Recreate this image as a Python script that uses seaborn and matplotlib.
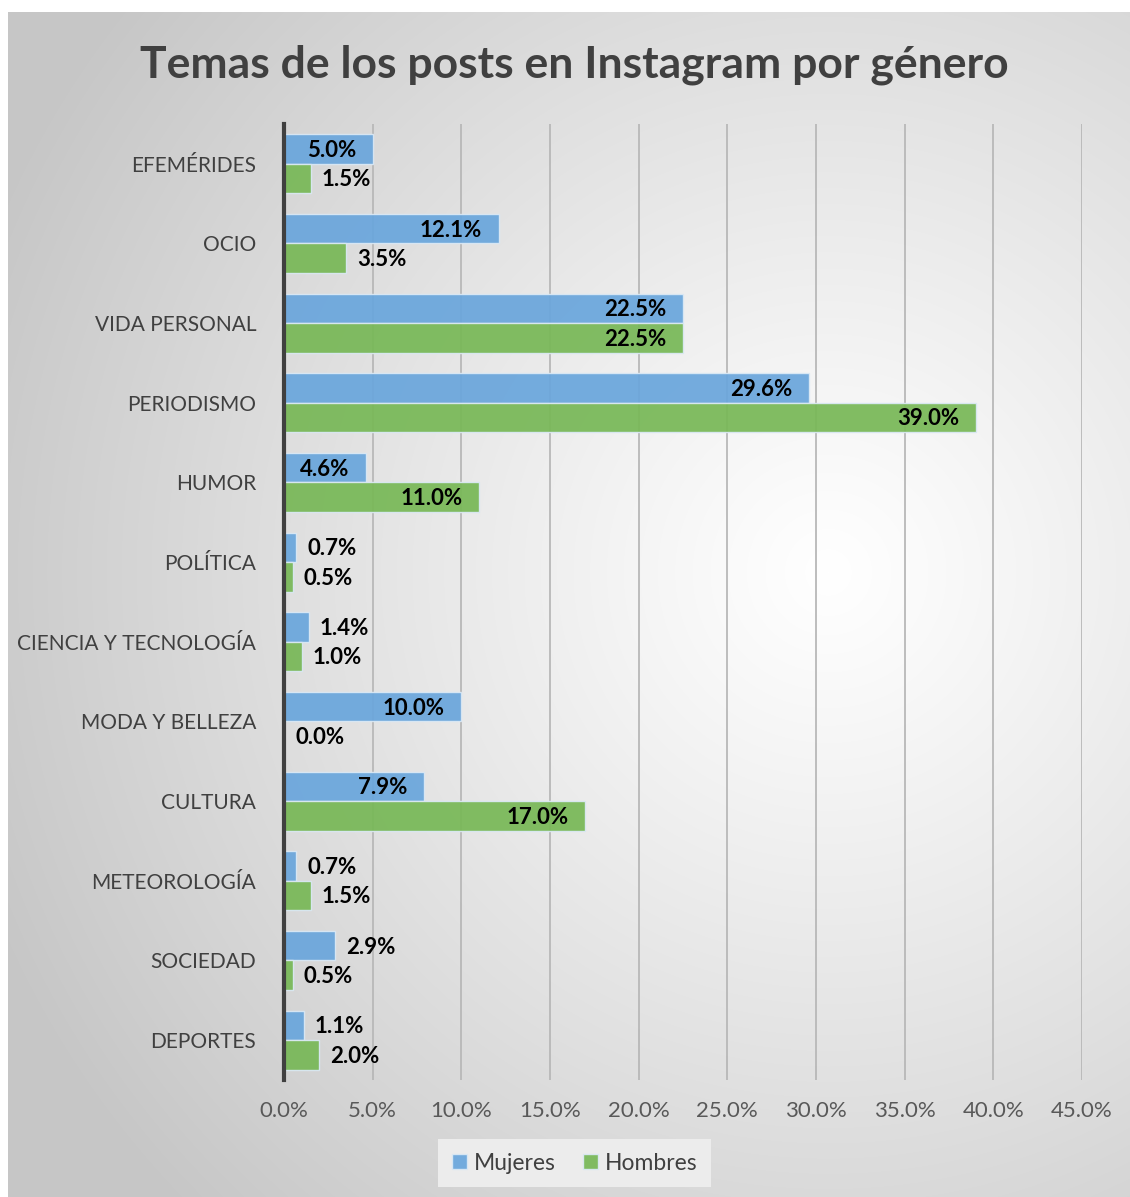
import numpy as np
import pandas as pd
import matplotlib
matplotlib.use("Agg")
import matplotlib.pyplot as plt
import seaborn as sns

categories = ["EFEMÉRIDES", "OCIO", "VIDA PERSONAL", "PERIODISMO", "HUMOR", "POLÍTICA",
              "CIENCIA Y TECNOLOGÍA", "MODA Y BELLEZA", "CULTURA", "METEOROLOGÍA",
              "SOCIEDAD", "DEPORTES"]
mujeres = [5.0, 12.1, 22.5, 29.6, 4.6, 0.7, 1.4, 10.0, 7.9, 0.7, 2.9, 1.1]
hombres = [1.5, 3.5, 22.5, 39.0, 11.0, 0.5, 1.0, 0.0, 17.0, 1.5, 0.5, 2.0]
series = ["Mujeres", "Hombres"]
xticks = [0, 5, 10, 15, 20, 25, 30, 35, 40, 45]
title = "Temas de los posts en Instagram por género"

df = pd.DataFrame({
    "Tema": categories * 2,
    "Género": [series[0]] * len(categories) + [series[1]] * len(categories),
    "Valor": mujeres + hombres,
})

sns.set_theme(style="white")
plt.rcParams["font.family"] = ["Lato", "DejaVu Sans"]

W, H = 1130, 1197
fig = plt.figure(figsize=(W / 100, H / 100), dpi=100)
fig.patch.set_facecolor("white")

# radial gradient background for the chart area
bg = fig.add_axes([8 / W, 0, 1 - 8 / W, 1 - 12 / H], zorder=-10)
yy, xx = np.mgrid[0:H - 12, 0:W - 8]
cx, cy = 820, 560
r = np.sqrt((xx - cx) ** 2 + (yy - cy) ** 2) / 900
r = np.clip(r, 0, 1)
val = 1.0 - (1.0 - 0.78) * r ** 1.1
bg.imshow(np.dstack([val, val, val]), aspect="auto", interpolation="bilinear")
bg.set_axis_off()

ax = fig.add_axes([284 / W, 1 - 1080 / H, (1082 - 284) / W, (1080 - 124) / H])
ax.patch.set_alpha(0)

palette = {"Mujeres": "#6aa6dc", "Hombres": "#78b857"}
sns.barplot(data=df, y="Tema", x="Valor", hue="Género", order=categories,
            hue_order=series, palette=palette, orient="h", width=0.74,
            saturation=1, alpha=0.93, edgecolor="#dbe9f5", linewidth=1.0, ax=ax,
            legend=True, zorder=3)

ax.set_xlim(0, 45)
ax.set_xticks(xticks)
ax.set_xticklabels([f"{t:.1f}%" for t in xticks], fontsize=16, color="#595959")
ax.tick_params(axis="x", length=0, pad=15)
ax.tick_params(axis="y", length=0, pad=20, labelsize=15, labelcolor="#404040")
ax.set_xlabel("")
ax.set_ylabel("")
ax.grid(axis="x", color="#b8b8b8", linewidth=1.3, zorder=0)
ax.set_axisbelow(True)
for s in ["top", "right", "bottom"]:
    ax.spines[s].set_visible(False)
ax.spines["left"].set_color("#404040")
ax.spines["left"].set_linewidth(3)
ax.spines["left"].set_zorder(5)

# data labels
for cont in ax.containers:
    for bar in cont:
        w = bar.get_width()
        yc = bar.get_y() + bar.get_height() / 2
        if w >= 4:
            ax.annotate(f"{w:.1f}%", (w, yc), xytext=(-12, -1), textcoords="offset points",
                        ha="right", va="center", fontsize=16, fontweight="bold",
                        color="black", zorder=6)
        else:
            ax.annotate(f"{w:.1f}%", (w, yc), xytext=(8, -1), textcoords="offset points",
                        ha="left", va="center", fontsize=16, fontweight="bold",
                        color="black", zorder=6)

handles, labels = ax.get_legend_handles_labels()
ax.get_legend().remove()
leg = fig.legend(handles, labels, loc="center", bbox_to_anchor=(574.5 / W, 1 - 1163 / H),
                 ncol=2, frameon=True, fontsize=16.5, handlelength=0.65, handleheight=0.65,
                 handletextpad=0.3, columnspacing=1.2, borderpad=0.6)
leg.get_frame().set_facecolor("#ececec")
leg.get_frame().set_edgecolor("none")
leg.get_frame().set_alpha(1)
leg.get_frame().set_boxstyle("square", pad=0)
for t in leg.get_texts():
    t.set_color("#404040")

fig.text(574 / W, 1 - 65 / H, title, ha="center", va="center", fontsize=32,
         fontweight="bold", color="#404040")

fig.savefig("out.png", dpi=100)
